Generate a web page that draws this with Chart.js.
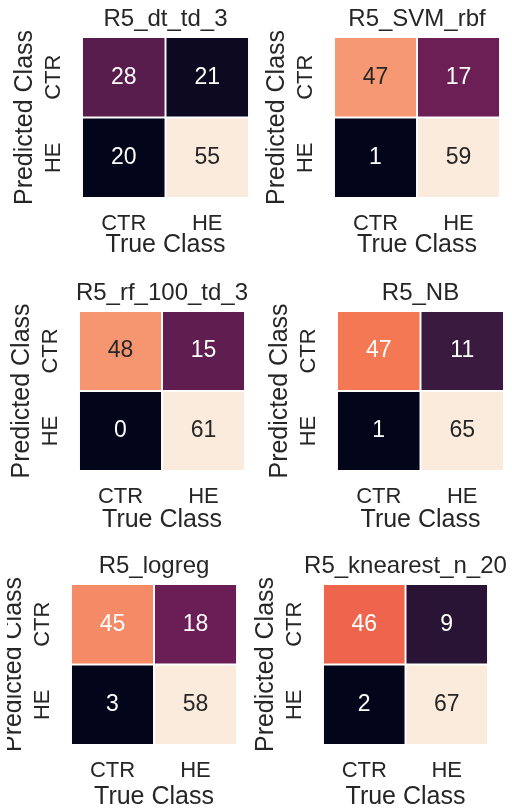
<!DOCTYPE html>
<html>
<head>
<meta charset="utf-8">
<script src="https://cdn.jsdelivr.net/npm/chart.js@4.4.0/dist/chart.umd.min.js"></script>
<style>
  body { margin: 0; background: #fff; width: 512px; height: 810px; overflow: hidden; position: relative; }
  canvas { position: absolute; }
</style>
</head>
<body>
<script>
// axis categories
const trueClasses = ['CTR', 'HE'];
const predictedClasses = ['CTR', 'HE'];

// confusion matrices: rows = predicted class, columns = true class
const dtTd3 = [[28, 21], [20, 55]];
const svmRbf = [[47, 17], [1, 59]];
const rf100Td3 = [[48, 15], [0, 61]];
const naiveBayes = [[47, 11], [1, 65]];
const logreg = [[45, 18], [3, 58]];
const knearest20 = [[46, 9], [2, 67]];

const modelNames = ['R5_dt_td_3', 'R5_SVM_rbf', 'R5_rf_100_td_3', 'R5_NB', 'R5_logreg', 'R5_knearest_n_20'];
const matrices = [dtTd3, svmRbf, rf100Td3, naiveBayes, logreg, knearest20];

// where each heatmap sits on the page (chart area in px) and room for the x title
const panels = [
  { left: 82,  top: 37,  width: 167, height: 161, xTitleGap: 47, clip: 0 },
  { left: 334, top: 37,  width: 166, height: 161, xTitleGap: 47, clip: 0 },
  { left: 79,  top: 311, width: 166, height: 160, xTitleGap: 49, clip: 0 },
  { left: 337, top: 311, width: 167, height: 160, xTitleGap: 49, clip: 0 },
  { left: 71,  top: 584, width: 166, height: 161, xTitleGap: 52, clip: 16 },
  { left: 323, top: 584, width: 165, height: 161, xTitleGap: 52, clip: 0 }
];

const FONT = '"Liberation Sans", Arial, Helvetica, sans-serif';
const TEXT = '#262626';

// seaborn "rocket" colormap, sampled
const rocketStops = ['#03051a', '#35193e', '#701f57', '#ad1759', '#e13342', '#f37651', '#f6b48f', '#faebdd'];

function hexToRgb(h) {
  return [1, 3, 5].map(i => parseInt(h.slice(i, i + 2), 16));
}

function rocket(t) {
  t = Math.max(0, Math.min(1, t));
  const pos = t * (rocketStops.length - 1);
  const i = Math.min(Math.floor(pos), rocketStops.length - 2);
  const f = pos - i;
  const a = hexToRgb(rocketStops[i]);
  const b = hexToRgb(rocketStops[i + 1]);
  return a.map((v, k) => Math.round(v + (b[k] - v) * f));
}

function luminance(rgb) {
  const lin = rgb.map(v => {
    v /= 255;
    return v <= 0.03928 ? v / 12.92 : Math.pow((v + 0.055) / 1.055, 2.4);
  });
  return 0.2126 * lin[0] + 0.7152 * lin[1] + 0.0722 * lin[2];
}

// numbers inside the cells
const cellLabels = {
  id: 'cellLabels',
  afterDatasetsDraw(chart) {
    const ctx = chart.ctx;
    ctx.save();
    ctx.font = '23px ' + FONT;
    ctx.textAlign = 'center';
    ctx.textBaseline = 'middle';
    chart.data.datasets.forEach((ds, i) => {
      chart.getDatasetMeta(i).data.forEach((bar, j) => {
        const c = bar.getCenterPoint();
        ctx.fillStyle = ds.textColors[j];
        ctx.fillText(String(ds.counts[j]), c.x, c.y);
      });
    });
    ctx.restore();
  }
};

matrices.forEach((matrix, p) => {
  const box = panels[p];
  const flat = matrix.flat();
  const vmin = Math.min(...flat);
  const vmax = Math.max(...flat);

  // equal axis boxes left and right so the full-width title centres on the heatmap
  const sideW = 80, topSpace = 40;
  const xAxisH = box.xTitleGap + 15;

  const canvas = document.createElement('canvas');
  canvas.width = sideW + box.width + sideW;
  canvas.height = topSpace + box.height + xAxisH;
  canvas.style.left = (box.left - sideW) + 'px';
  canvas.style.top = (box.top - topSpace) + 'px';
  if (box.clip) canvas.style.clipPath = 'inset(0 0 0 ' + box.clip + 'px)';
  document.body.appendChild(canvas);

  // bottom row of the heatmap is the first stacked dataset
  const datasets = predictedClasses.map((name, r) => {
    const row = matrix[r];
    const colors = row.map(v => rocket((v - vmin) / (vmax - vmin)));
    return {
      label: name,
      data: trueClasses.map(() => 1),
      counts: row,
      backgroundColor: colors.map(c => 'rgb(' + c.join(',') + ')'),
      textColors: colors.map(c => luminance(c) > 0.408 ? TEXT : '#ffffff'),
      borderColor: '#ffffff',
      borderWidth: 1.3,
      borderSkipped: false,
      barPercentage: 1,
      categoryPercentage: 1
    };
  }).reverse();

  new Chart(canvas, {
    type: 'bar',
    data: { labels: trueClasses, datasets: datasets },
    plugins: [cellLabels],
    options: {
      responsive: false,
      animation: false,
      devicePixelRatio: 1,
      layout: { padding: 0 },
      plugins: {
        legend: { display: false },
        tooltip: { enabled: false },
        title: {
          display: true,
          text: modelNames[p],
          fullSize: true,
          color: TEXT,
          font: { family: FONT, size: 24, weight: 'normal' },
          padding: { top: 8.4, bottom: 2.8 }
        }
      },
      scales: {
        x: {
          stacked: true,
          grid: { display: false, drawTicks: false },
          border: { display: false },
          ticks: { color: TEXT, font: { family: FONT, size: 22 }, padding: 13, maxRotation: 0 },
          title: {
            display: true, text: 'True Class', color: TEXT,
            font: { family: FONT, size: 25 }, padding: { top: 0, bottom: 0 }
          },
          afterFit: s => { s.height = xAxisH; }
        },
        y: {
          stacked: true,
          min: 0,
          max: predictedClasses.length,
          grid: { display: false, drawTicks: false },
          border: { display: false },
          afterBuildTicks: s => { s.ticks = predictedClasses.map((c, i) => ({ value: i + 0.5 })); },
          ticks: {
            color: TEXT,
            font: { family: FONT, size: 22 },
            padding: 5.1,
            minRotation: 90,
            maxRotation: 90,
            crossAlign: 'center',
            autoSkip: false,
            callback: v => predictedClasses[predictedClasses.length - 1 - Math.floor(v)]
          },
          title: {
            display: true, text: 'Predicted Class', color: TEXT,
            font: { family: FONT, size: 25 }, padding: { top: 8.3, bottom: 0 }
          },
          afterFit: s => { s.width = sideW; }
        },
        // empty right-hand axis, only reserves space
        yRight: {
          type: 'linear',
          position: 'right',
          display: true,
          min: 0,
          max: predictedClasses.length,
          grid: { display: false, drawTicks: false },
          border: { display: false },
          ticks: { display: false },
          afterFit: s => { s.width = sideW; }
        }
      }
    }
  });
});
</script>
</body>
</html>
